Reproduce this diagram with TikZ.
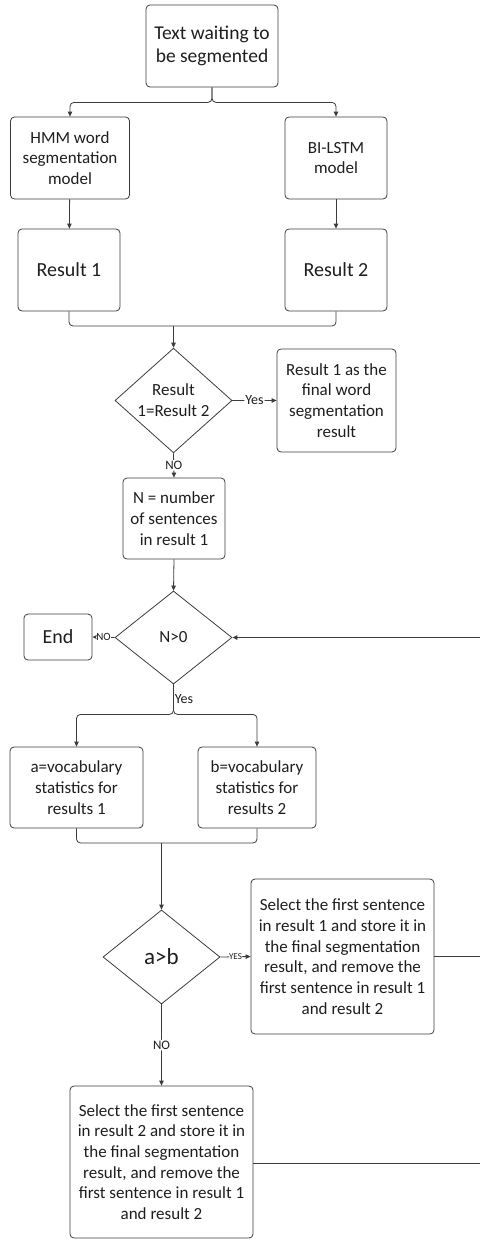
\documentclass[tikz,border=0pt]{standalone}
\usepackage{fontspec}
\setmainfont{Carlito}
\usetikzlibrary{arrows.meta,shapes.geometric}
\definecolor{linec}{HTML}{3C3C3C}
\definecolor{textc}{HTML}{1E1E1E}
\newcommand{\fs}[2]{\fontsize{#1}{#2}\selectfont}
\tikzset{
  box/.style={draw=linec, line width=0.8pt, rounded corners=4pt, align=center,
    inner sep=0pt, text=textc, font=\fs{17}{20.7}},
  decision/.style={diamond, draw=linec, line width=0.8pt, align=center,
    inner sep=0pt, text=textc, font=\fs{17}{20.7}},
  conn/.style={draw=linec, line width=0.8pt, rounded corners=4pt},
  arr/.style={conn, -{Triangle[length=5pt,width=4.5pt]}},
  lbl/.style={fill=white, inner sep=1pt, text=textc},
}
\begin{document}
\begin{tikzpicture}[x=1pt,y=-1pt]
\useasboundingbox (0,0) rectangle (480,1239);

% process boxes
\node[box, minimum width=132, minimum height=82, font=\fs{19.5}{23}] (top) at (212,46) {Text waiting to\\be segmented};
\node[box, minimum width=119, minimum height=82] (hmm) at (70,158) {HMM word\\segmentation\\model};
\node[box, minimum width=102, minimum height=82] (bil) at (336,158) {BI-LSTM\\model};
\node[box, minimum width=102, minimum height=82, font=\fs{20}{24}] (r1) at (69,270) {Result 1};
\node[box, minimum width=102, minimum height=82, font=\fs{20}{24}] (r2) at (336,270) {Result 2};
\node[decision, minimum width=117, minimum height=95] (d1) at (173.5,400.5) {Result\\1=Result 2};
\node[box, minimum width=119, minimum height=103] (fin) at (336.5,400.5) {Result 1 as the\\final word\\segmentation\\result};
\node[box, minimum width=102, minimum height=81] (nbox) at (174,518.5) {N = number\\of sentences\\in result 1};
\node[decision, minimum width=117, minimum height=93] (d2) at (173.5,637.5) {N>0};
\node[box, minimum width=68, minimum height=46, font=\fs{20}{24}] (end) at (58,637) {End};
\node[box, minimum width=133, minimum height=81] (abox) at (76.5,787.5) {a=vocabulary\\statistics for\\results 1};
\node[box, minimum width=118, minimum height=81] (bbox) at (257,787.5) {b=vocabulary\\statistics for\\results 2};
\node[decision, minimum width=117, minimum height=94, font=\fs{23}{27}] (d3) at (161.5,957) {a>b};
\node[box, minimum width=183, minimum height=155] (sel1) at (342.5,956.5) {Select the first sentence\\in result 1 and store it in\\the final segmentation\\result, and remove the\\first sentence in result 1\\and result 2};
\node[box, minimum width=183, minimum height=152] (sel2) at (161.5,1162) {Select the first sentence\\in result 2 and store it in\\the final segmentation\\result, and remove the\\first sentence in result 1\\and result 2};

% junction points and loop-back points at the right edge
\coordinate (m1) at (173.5,326);
\coordinate (m2) at (161.5,843);
\coordinate (e1) at (480,637.5);
\coordinate (e2) at (480,956.5);
\coordinate (e3) at (480,1163);

% connectors
\draw[arr] (top.south) -- ++(0,15) -| (hmm.north);
\draw[arr] (top.south) -- ++(0,15) -| (bil.north);
\draw[arr] (hmm) -- (r1);
\draw[arr] (bil) -- (r2);
\draw[conn] (r1.south) |- (m1);
\draw[conn] (r2.south) |- (m1);
\draw[arr] (m1) -- (d1.north);
\draw[arr] (d1.east) -- node[lbl, font=\fs{14}{16}] {Yes} (fin.west);
\draw[arr] (d1.south) -- node[lbl, font=\fs{13}{15}] {NO} (nbox.north);
\draw[arr] (nbox.south) -- (d2.north);
\draw[arr] (d2.west) -- node[lbl, font=\fs{11}{13}, inner sep=0.3pt] {NO} (end.east);
\draw[arr] (d2.south) -- node[anchor=west, inner sep=1pt, text=textc, font=\fs{14}{16}, pos=0.5] {Yes} ++(0,30) -| (abox.north);
\draw[arr] (d2.south) -- ++(0,30) -| (bbox.north);
\draw[conn] (abox.south) |- (m2);
\draw[conn] (bbox.south) |- (m2);
\draw[arr] (m2) -- (d3.north);
\draw[arr] (d3.east) -- node[lbl, font=\fs{9}{11}, inner sep=0.3pt] {YES} (sel1.west);
\draw[arr] (d3.south) -- node[lbl, font=\fs{13}{15}] {NO} (sel2.north);
\draw[conn] (sel1.east) -- (e2);
\draw[conn] (sel2.east |- e3) -- (e3);
\draw[arr, line width=1.3pt] (e1) -- (d2.east);
\end{tikzpicture}
\end{document}
